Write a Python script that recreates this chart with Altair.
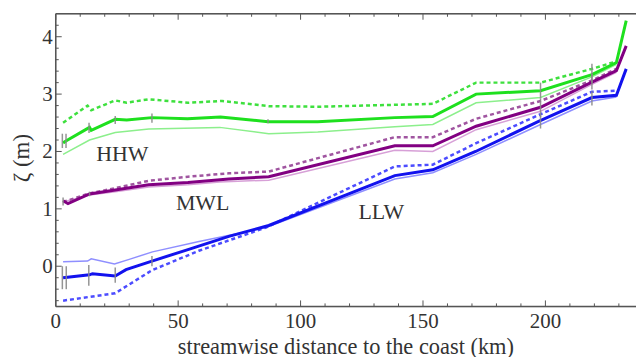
import altair as alt
import pandas as pd

# ---------------- data ----------------
# HHW
hhw_x = [3, 4.5, 13.8, 14.5, 24.3, 29, 39.3, 53.8, 67.3, 86.7, 107, 138.5, 154, 171.7, 198, 219, 229, 233]
hhw_y = [2.15, 2.19, 2.42, 2.37, 2.56, 2.55, 2.59, 2.57, 2.6, 2.52, 2.52, 2.59, 2.61, 3.0, 3.06, 3.34, 3.55, 4.28]
hhw_dash_x = [3, 13, 14.5, 24.3, 29, 38, 54, 68, 87, 107, 145, 154, 171.7, 198, 219, 229]
hhw_dash_y = [2.5, 2.8, 2.72, 2.89, 2.85, 2.91, 2.85, 2.88, 2.79, 2.78, 2.82, 2.83, 3.2, 3.2, 3.44, 3.57]
hhw_lite_x = [3, 13.8, 24.3, 38, 67, 87, 107, 138.5, 154, 171.7, 198, 219, 229]
hhw_lite_y = [1.95, 2.2, 2.33, 2.39, 2.42, 2.31, 2.34, 2.43, 2.47, 2.85, 2.94, 3.3, 3.52]

# MWL
mwl_x = [3, 5, 13.8, 24.3, 38, 54, 70.7, 87, 138.5, 154, 171.7, 198, 219, 229, 233]
mwl_y = [1.14, 1.09, 1.26, 1.33, 1.42, 1.46, 1.52, 1.56, 2.1, 2.1, 2.44, 2.77, 3.21, 3.41, 3.84]
mwl_dash_x = [3, 13.8, 24.3, 38, 54, 70.7, 87, 138.5, 154, 171.7, 198, 219, 229]
mwl_dash_y = [1.12, 1.27, 1.36, 1.49, 1.56, 1.62, 1.65, 2.25, 2.25, 2.57, 2.88, 3.24, 3.44]
mwl_lite_x = [3, 13.8, 24.3, 38, 54, 67, 87, 138.5, 154, 171.7, 198, 219, 229]
mwl_lite_y = [1.12, 1.24, 1.3, 1.38, 1.42, 1.47, 1.5, 2.02, 2.0, 2.38, 2.7, 3.17, 3.38]

# LLW
llw_x = [3, 13.8, 15, 24.3, 28.7, 39.3, 54, 70.7, 87, 138.5, 154, 171.5, 197, 219, 229, 233]
llw_y = [-0.2, -0.15, -0.13, -0.17, -0.06, 0.09, 0.29, 0.52, 0.71, 1.58, 1.68, 2.0, 2.52, 2.94, 2.98, 3.44]
llw_dash_x = [3, 24.3, 39.3, 58.5, 85.6, 138.5, 154, 171.5, 197, 219, 229]
llw_dash_y = [-0.6, -0.47, -0.07, 0.27, 0.67, 1.74, 1.77, 2.14, 2.63, 3.04, 3.06]
llw_lite_x = [3, 13, 14.5, 24, 30, 39.5, 58.5, 85.6, 138.5, 154, 171.7, 198, 219, 229]
llw_lite_y = [0.08, 0.09, 0.13, 0.04, 0.12, 0.25, 0.43, 0.67, 1.52, 1.63, 1.95, 2.47, 2.88, 2.95]

# error bars
err_x = [2.7, 4.2, 13.6, 24.3, 39.3, 86.7, 198, 219,
         3, 13.8, 198, 219,
         2.7, 4.3, 13.5, 24.3, 39.3, 198, 219]
err_lo = [2.06, 2.06, 2.32, 2.48, 2.5, 2.49, 2.92, 3.2,
          1.06, 1.22, 2.6, 3.08,
          -0.4, -0.4, -0.34, -0.29, 0.0, 2.4, 2.8]
err_hi = [2.31, 2.31, 2.5, 2.62, 2.66, 2.56, 3.2, 3.53,
          1.2, 1.3, 2.92, 3.35,
          0.0, 0.0, 0.02, -0.02, 0.18, 2.62, 3.05]

# labels
lab_text = ["HHW", "MWL", "LLW"]
lab_x = [27.2, 60, 133]
lab_y = [1.96, 1.11, 0.94]

x_major = [0, 50, 100, 150, 200]
x_minor = [10, 20, 30, 40, 60, 70, 80, 90, 110, 120, 130, 140, 160, 170, 180, 190, 210, 220, 230]
y_major = [0, 1, 2, 3, 4]
y_minor = [-0.6, -0.4, -0.2, 0.2, 0.4, 0.6, 0.8, 1.2, 1.4, 1.6, 1.8, 2.2, 2.4, 2.6, 2.8,
           3.2, 3.4, 3.6, 3.8, 4.2]
x_title = "streamwise distance to the coast (km)"
y_title = "ζ (m)"

# ---------------- chart ----------------
W, H = 583, 294
FONT = "Liberation Serif"
TXT = "#333333"
FRAME = "#555555"

xscale = alt.Scale(domain=[0, 237], nice=False, zero=False)
yscale = alt.Scale(domain=[-0.7, 4.4], nice=False, zero=False)

X = lambda f="x": alt.X(f"{f}:Q", scale=xscale, axis=None)
Y = lambda f="y": alt.Y(f"{f}:Q", scale=yscale, axis=None)


def line(xs, ys, color, width, dash=None):
    kw = dict(color=color, strokeWidth=width, clip=True)
    if dash:
        kw["strokeDash"] = dash
    return alt.Chart(pd.DataFrame({"x": xs, "y": ys})).mark_line(**kw).encode(x=X(), y=Y())


layers = []
# frame (left, bottom, top)
frame_df = pd.DataFrame({"x": [0]})
layers.append(alt.Chart(frame_df).mark_rule(color=FRAME, strokeWidth=1.5).encode(
    x=alt.value(0), y=alt.value(0), y2=alt.value(H)))
layers.append(alt.Chart(frame_df).mark_rule(color=FRAME, strokeWidth=1.5).encode(
    x=alt.value(0), x2=alt.value(W), y=alt.value(H)))
layers.append(alt.Chart(frame_df).mark_rule(color=FRAME, strokeWidth=1.5).encode(
    x=alt.value(0), x2=alt.value(W), y=alt.value(0)))

# ticks
xmaj = pd.DataFrame({"x": x_major, "t": [str(v) for v in x_major]})
xmin = pd.DataFrame({"x": x_minor})
ymaj = pd.DataFrame({"y": y_major, "t": [str(v) for v in y_major]})
ymin = pd.DataFrame({"y": y_minor})
layers.append(alt.Chart(xmaj).mark_rule(color=FRAME, strokeWidth=1).encode(x=X(), y=alt.value(H), y2=alt.value(H - 6)))
layers.append(alt.Chart(xmin).mark_rule(color=FRAME, strokeWidth=1).encode(x=X(), y=alt.value(H), y2=alt.value(H - 3)))
layers.append(alt.Chart(xmaj).mark_rule(color=FRAME, strokeWidth=1).encode(x=X(), y=alt.value(0), y2=alt.value(6)))
layers.append(alt.Chart(xmin).mark_rule(color=FRAME, strokeWidth=1).encode(x=X(), y=alt.value(0), y2=alt.value(3)))
layers.append(alt.Chart(ymaj).mark_rule(color=FRAME, strokeWidth=1).encode(y=Y(), x=alt.value(0), x2=alt.value(6)))
layers.append(alt.Chart(ymin).mark_rule(color=FRAME, strokeWidth=1).encode(y=Y(), x=alt.value(0), x2=alt.value(3)))

# tick labels (text through the scales)
layers.append(alt.Chart(xmaj).mark_text(font=FONT, fontSize=21, color=TXT, baseline="alphabetic", align="center").encode(
    x=X(), y=alt.value(H + 22), text="t:N"))
layers.append(alt.Chart(ymaj).mark_text(font=FONT, fontSize=21, color=TXT, baseline="middle", align="right", dy=1).encode(
    y=Y(), x=alt.value(-3), text="t:N"))
# axis titles
tdf = pd.DataFrame({"t": [x_title]})
layers.append(alt.Chart(tdf).mark_text(font=FONT, fontSize=22.5, color=TXT, baseline="alphabetic", align="center").encode(
    x=alt.value(W / 2), y=alt.value(H + 48), text="t:N"))
ydf = pd.DataFrame({"t": [y_title]})
layers.append(alt.Chart(ydf).mark_text(font=FONT, fontSize=23, color=TXT, baseline="middle", align="center", angle=270).encode(
    x=alt.value(-34), y=alt.value(H / 2 - 2), text="t:N"))

# thin (light) lines
layers.append(line(hhw_lite_x, hhw_lite_y, "#8cef8c", 1.5))
layers.append(line(mwl_lite_x, mwl_lite_y, "#d7a0d7", 1.5))
layers.append(line(llw_lite_x, llw_lite_y, "#8f8fff", 1.5))
# dashed
layers.append(line(hhw_dash_x, hhw_dash_y, "#3ee03e", 2.5, [4, 3]))
layers.append(line(mwl_dash_x, mwl_dash_y, "#a055a0", 2.5, [4, 3]))
layers.append(line(llw_dash_x, llw_dash_y, "#4c4cff", 2.5, [4, 3]))
# main
layers.append(line(hhw_x, hhw_y, "#1ee01e", 3))
layers.append(line(mwl_x, mwl_y, "#820082", 3))
layers.append(line(llw_x, llw_y, "#1212ee", 3))

# error bars
err_df = pd.DataFrame({"x": err_x, "lo": err_lo, "hi": err_hi})
layers.append(alt.Chart(err_df).mark_rule(color="#8a8a8a", strokeWidth=1.5, opacity=0.9).encode(
    x=X(), y=Y("lo"), y2="hi:Q"))

# text labels
lab_df = pd.DataFrame({"t": lab_text, "x": lab_x, "y": lab_y})
layers.append(alt.Chart(lab_df).mark_text(font=FONT, fontSize=22, color=TXT, baseline="middle", align="center").encode(
    x=X(), y=Y(), text="t:N"))

chart = alt.layer(*layers).properties(
    width=W, height=H,
    autosize=alt.AutoSizeParams(type="none"),
    padding={"left": 56, "top": 13, "right": 0, "bottom": 50},
    background="white",
).configure_view(stroke=None).configure(font=FONT)

chart.save("out.html", embed_options={"renderer": "svg", "actions": False})
